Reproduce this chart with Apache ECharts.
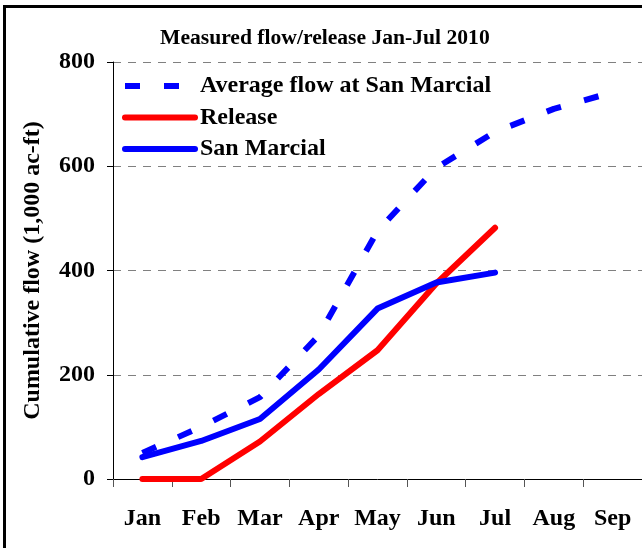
<!DOCTYPE html>
<html>
<head>
<meta charset="utf-8">
<script src="https://cdn.jsdelivr.net/npm/echarts@6/dist/echarts.min.js"></script>
<style>
  body { margin: 0; background: #fff; }
  #frame { position: absolute; left: 3px; top: 5px; width: 700px; height: 600px; border: 3px solid #000; }
  #chart { position: absolute; left: 0; top: 0; width: 642px; height: 548px; }
</style>
</head>
<body>
<div id="frame"></div>
<div id="chart"></div>
<script>
// months on the x axis
var months = ['Jan', 'Feb', 'Mar', 'Apr', 'May', 'Jun', 'Jul', 'Aug', 'Sep']
// cumulative flow, 1,000 ac-ft
var avgSanMarcial = [50, 100, 157, 275, 476, 597, 666, 710, 742]
var release = [0, 0, 72, 163, 247, 375, 482]
var sanMarcial = [42, 73, 115, 210, 327, 377, 396]
var yTicks = [0, 200, 400, 600, 800]

var font = 'Liberation Serif'
var chart = echarts.init(document.getElementById('chart'))

chart.setOption({
  backgroundColor: 'transparent',
  animation: false,
  title: {
    text: 'Measured flow/release Jan-Jul 2010',
    left: 160,
    top: 27,
    padding: 0,
    textStyle: { fontFamily: font, fontSize: 21.6, fontWeight: 'bold', color: '#000' }
  },
  legend: {
    orient: 'vertical',
    left: 122,
    top: 74,
    padding: 0,
    itemWidth: 70,
    itemHeight: 14,
    itemGap: 7.5,
    itemTextGap: 4,
    itemStyle: { opacity: 0 },
    lineStyle: { width: 6 },
    textStyle: { fontFamily: font, fontSize: 24, fontWeight: 'bold', color: '#000', lineHeight: 24 },
    data: ['Average flow at San Marcial', 'Release', 'San Marcial']
  },
  grid: {
    left: 113,
    top: 62,
    right: -4,
    bottom: 69
  },
  xAxis: {
    type: 'category',
    data: months,
    boundaryGap: true,
    axisLine: { lineStyle: { color: '#000', width: 1 } },
    axisTick: { show: true, interval: 0, length: 8, lineStyle: { color: '#555' } },
    axisLabel: { interval: 0, margin: 28, fontFamily: font, fontSize: 24, fontWeight: 'bold', color: '#000' }
  },
  yAxis: {
    type: 'value',
    min: yTicks[0],
    max: yTicks[yTicks.length - 1],
    interval: 200,
    name: 'Cumulative flow (1,000 ac-ft)',
    nameLocation: 'middle',
    nameRotate: 90,
    nameGap: 68,
    nameTextStyle: { fontFamily: font, fontSize: 24, fontWeight: 'bold', color: '#000' },
    axisLine: { show: true, lineStyle: { color: '#000', width: 1 } },
    axisTick: { show: true, length: 6, lineStyle: { color: '#000' } },
    axisLabel: { margin: 18, fontFamily: font, fontSize: 24, fontWeight: 'bold', color: '#000' },
    splitLine: { show: true, lineStyle: { color: '#808080', type: [8, 7], width: 1 } }
  },
  series: [
    {
      name: 'Average flow at San Marcial',
      type: 'line',
      data: avgSanMarcial,
      symbol: 'none',
      lineStyle: { color: '#0000ff', width: 6, type: [15, 24], cap: 'butt' },
      itemStyle: { color: '#0000ff' }
    },
    {
      name: 'Release',
      type: 'line',
      data: release,
      symbol: 'none',
      lineStyle: { color: '#ff0000', width: 6, cap: 'round', join: 'round' },
      itemStyle: { color: '#ff0000' }
    },
    {
      name: 'San Marcial',
      type: 'line',
      data: sanMarcial,
      symbol: 'none',
      lineStyle: { color: '#0000ff', width: 6, cap: 'round', join: 'round' },
      itemStyle: { color: '#0000ff' }
    }
  ]
})
</script>
</body>
</html>
